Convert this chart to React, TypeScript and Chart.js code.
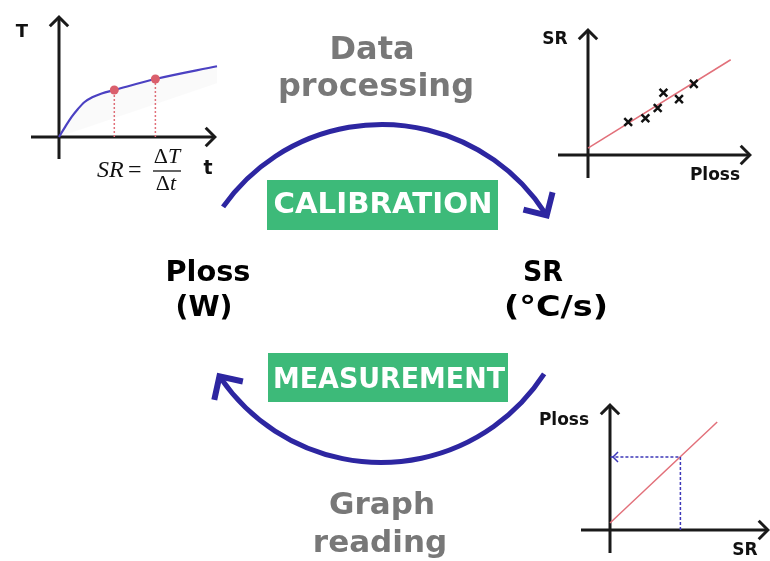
import React, { useEffect, useRef } from 'react';
import { Chart, registerables } from 'chart.js';

Chart.register(...registerables);

// ---------------- data ----------------
// Top-left: heating curve T(t) with two sample points
const curveTime = [0, 0.4, 0.8, 1.2, 1.6, 2.1, 2.7, 3.5, 6.1, 10];
const curveTemp = [0, 0.85, 1.65, 2.3, 2.85, 3.25, 3.57, 3.85, 4.75, 5.8];
const sampleTime = [3.5, 6.1];
const sampleTemp = [3.85, 4.75];
const shadeTime = [0, 10];
const shadeTemp = [0, 4.4];

// Top-right: calibration points SR vs Ploss and fitted line
const calPloss = [2.45, 3.5, 4.25, 4.6, 5.55, 6.45];
const calSR = [2.6, 2.9, 3.7, 4.9, 4.4, 5.6];
const fitPloss = [0, 8.7];
const fitSR = [0.55, 7.5];

// Bottom-right: reading Ploss from SR
const readFitSR = [0, 6.7];
const readFitPloss = [0.55, 8.5];
const readSR = [4.4];
const readPloss = [5.75];

// Texts
const cycleTop = ['Data', 'processing'];
const cycleBottom = ['Graph', 'reading'];
const leftNode = ['Ploss', '(W)'];
const rightNode = ['SR', '(°C/s)'];
const stepLabels = ['CALIBRATION', 'MEASUREMENT'];

// ---------------- styles ----------------
const FONT = '"DejaVu Sans", Verdana, sans-serif';
const SERIF = '"Liberation Serif", "DejaVu Serif", serif';
const AXIS = '#1a1a1a';
const ARC = '#2d26a1';
const GREEN = '#3dba79';
const GREY = '#787878';
const CURVE = '#4b41c2';
const RED_DOT = '#da5f6c';
const RED_LINE = '#e2707a';
const BLUE_DASH = '#3d37b8';

const pts = (xs: number[], ys: number[]) => xs.map((x, i) => ({ x, y: ys[i] }));
const rad = (d: number) => (d * Math.PI) / 180;

function drawText(
  ctx: CanvasRenderingContext2D,
  s: string,
  x: number,
  y: number,
  size: number,
  color: string,
  fitWidth = 0
) {
  ctx.save();
  ctx.font = `normal bold ${size}px ${FONT}`;
  ctx.fillStyle = color;
  ctx.textAlign = 'center';
  ctx.textBaseline = 'alphabetic';
  if (fitWidth > 0) {
    const w = ctx.measureText(s).width;
    ctx.translate(x, y);
    ctx.scale(fitWidth / w, 1);
    ctx.fillText(s, 0, 0);
  } else {
    ctx.fillText(s, x, y);
  }
  ctx.restore();
}

function chevron(
  ctx: CanvasRenderingContext2D,
  tipX: number,
  tipY: number,
  dir: number,
  arm: number,
  width: number,
  color: string
) {
  const back = width * 0.707;
  const tx = tipX - Math.cos(dir) * back;
  const ty = tipY - Math.sin(dir) * back;
  ctx.save();
  ctx.strokeStyle = color;
  ctx.lineWidth = width;
  ctx.lineJoin = 'miter';
  ctx.lineCap = 'butt';
  ctx.beginPath();
  ctx.moveTo(tx - arm * Math.cos(dir - Math.PI / 4), ty - arm * Math.sin(dir - Math.PI / 4));
  ctx.lineTo(tx, ty);
  ctx.lineTo(tx - arm * Math.cos(dir + Math.PI / 4), ty - arm * Math.sin(dir + Math.PI / 4));
  ctx.stroke();
  ctx.restore();
}

function drawArcArrow(ctx: CanvasRenderingContext2D, cx: number, cy: number, r: number, a0: number, a1: number) {
  ctx.save();
  ctx.strokeStyle = ARC;
  ctx.lineWidth = 5;
  ctx.lineCap = 'butt';
  ctx.beginPath();
  ctx.arc(cx, cy, r, rad(a0), rad(a1 - 2));
  ctx.stroke();
  ctx.restore();
  const tx = cx + r * Math.cos(rad(a1));
  const ty = cy + r * Math.sin(rad(a1));
  chevron(ctx, tx, ty, rad(a1 + 90), 24, 6, ARC);
}

function drawMixed(
  ctx: CanvasRenderingContext2D,
  parts: { t: string; italic: boolean }[],
  cx: number,
  y: number,
  size: number
) {
  ctx.save();
  const fonts = parts.map((p) => `${p.italic ? 'italic' : 'normal'} normal ${size}px ${SERIF}`);
  let total = 0;
  const widths = parts.map((p, i) => {
    ctx.font = fonts[i];
    const w = ctx.measureText(p.t).width;
    total += w;
    return w;
  });
  let x = cx - total / 2;
  ctx.fillStyle = '#111';
  ctx.textAlign = 'left';
  ctx.textBaseline = 'alphabetic';
  parts.forEach((p, i) => {
    ctx.font = fonts[i];
    ctx.fillText(p.t, x, y);
    x += widths[i];
  });
  ctx.restore();
}

// ---------------- plugins ----------------
type Label = { text: string; x: number; y: number; size: number };

function makeAxesPlugin(cfg: { extLeft: number; extDown: number; labels: Label[]; after?: (chart: any) => void }) {
  return {
    id: 'arrowAxes',
    beforeDatasetsDraw(chart: any) {
      const ctx: CanvasRenderingContext2D = chart.ctx;
      const { x, y } = chart.scales;
      const area = chart.chartArea;
      const x0 = x.getPixelForValue(0);
      const y0 = y.getPixelForValue(0);
      ctx.save();
      ctx.strokeStyle = AXIS;
      ctx.lineWidth = 3;
      ctx.beginPath();
      ctx.moveTo(x0 - cfg.extLeft, y0);
      ctx.lineTo(area.right - 2, y0);
      ctx.moveTo(x0, y0 + cfg.extDown);
      ctx.lineTo(x0, area.top + 2);
      ctx.stroke();
      ctx.restore();
      chevron(ctx, area.right, y0, 0, 13, 3, AXIS);
      chevron(ctx, x0, area.top, -Math.PI / 2, 13, 3, AXIS);
      cfg.labels.forEach((l) => drawText(ctx, l.text, l.x, l.y, l.size, '#111'));
    },
    afterDatasetsDraw(chart: any) {
      if (cfg.after) cfg.after(chart);
    },
  };
}

const cyclePlugin = {
  id: 'cycleDiagram',
  afterDraw(chart: any) {
    const ctx: CanvasRenderingContext2D = chart.ctx;
    // cycle arrows
    drawArcArrow(ctx, 382, 319, 194.5, 215.2, 329.1);
    drawArcArrow(ctx, 381, 268, 194.5, 33, 147.4);
    // step boxes
    ctx.save();
    ctx.fillStyle = GREEN;
    ctx.fillRect(267, 180, 231, 50);
    ctx.fillRect(268, 353, 240, 49);
    ctx.restore();
    drawText(ctx, stepLabels[0], 383, 213, 28, '#ffffff', 219);
    drawText(ctx, stepLabels[1], 389, 388, 28.5, '#ffffff', 232);
    // grey step descriptions
    drawText(ctx, cycleTop[0], 372, 59, 32, GREY);
    drawText(ctx, cycleTop[1], 376, 96, 32, GREY);
    drawText(ctx, cycleBottom[0], 382, 514, 31, GREY);
    drawText(ctx, cycleBottom[1], 380, 552, 31, GREY);
    // nodes
    drawText(ctx, leftNode[0], 208, 281, 28, '#000', 85);
    drawText(ctx, leftNode[1], 204, 316, 28, '#000', 57);
    drawText(ctx, rightNode[0], 543, 281, 28, '#000', 40);
    drawText(ctx, rightNode[1], 556, 316, 28, '#000', 104);
  },
};

// ---------------- chart configs ----------------
function miniScales() {
  return {
    x: { type: 'linear' as const, min: 0, max: 10, display: false },
    y: { type: 'linear' as const, min: 0, max: 10, display: false },
  };
}

function baseOptions(padding: { left: number; top: number; right: number; bottom: number }) {
  return {
    responsive: false,
    animation: false as const,
    devicePixelRatio: 1,
    layout: { padding },
    scales: miniScales(),
    plugins: { legend: { display: false }, tooltip: { enabled: false }, title: { display: false } },
    events: [] as any[],
  };
}

function chart1Config(): any {
  const plugin = makeAxesPlugin({
    extLeft: 28,
    extDown: 22,
    labels: [
      { text: 'T', x: 22, y: 37, size: 18 },
      { text: 't', x: 208, y: 174, size: 19 },
    ],
    after: (chart: any) => {
      const ctx: CanvasRenderingContext2D = chart.ctx;
      ctx.save();
      ctx.font = `italic normal 24px ${SERIF}`;
      ctx.fillStyle = '#111';
      ctx.textBaseline = 'alphabetic';
      ctx.fillText('SR', 97, 177);
      ctx.font = `normal normal 24px ${SERIF}`;
      ctx.fillText('=', 128, 177);
      ctx.strokeStyle = '#111';
      ctx.lineWidth = 1.3;
      ctx.beginPath();
      ctx.moveTo(153, 171);
      ctx.lineTo(181, 171);
      ctx.stroke();
      ctx.restore();
      drawMixed(ctx, [{ t: 'Δ', italic: false }, { t: 'T', italic: true }], 167, 163, 22);
      drawMixed(ctx, [{ t: 'Δ', italic: false }, { t: 't', italic: true }], 166, 190, 22);
    },
  });
  const verticals = sampleTime.map((t, i) => ({
    data: [
      { x: t, y: 0 },
      { x: t, y: sampleTemp[i] },
    ],
    showLine: true,
    borderColor: RED_LINE,
    borderWidth: 1.5,
    borderDash: [2, 2],
    pointRadius: 0,
    clip: false,
    order: 3,
  }));
  return {
    type: 'scatter',
    data: {
      datasets: [
        {
          data: pts(shadeTime, shadeTemp),
          showLine: true,
          borderWidth: 0,
          borderColor: 'rgba(0,0,0,0)',
          pointRadius: 0,
          clip: false,
          order: 4,
        },
        {
          data: pts(curveTime, curveTemp),
          showLine: true,
          borderColor: CURVE,
          borderWidth: 2.2,
          pointRadius: 0,
          cubicInterpolationMode: 'monotone',
          fill: '-1',
          backgroundColor: 'rgba(0,0,0,0.02)',
          clip: false,
          order: 2,
        },
        ...verticals,
        {
          data: pts(sampleTime, sampleTemp),
          showLine: false,
          pointRadius: 4.5,
          backgroundColor: RED_DOT,
          borderWidth: 0,
          clip: false,
          order: 0,
        },
      ],
    },
    options: baseOptions({ left: 59, top: 15, right: 23, bottom: 63 }),
    plugins: [plugin],
  };
}

function chart2Config(): any {
  const plugin = makeAxesPlugin({
    extLeft: 30,
    extDown: 23,
    labels: [
      { text: 'SR', x: 35, y: 44, size: 17 },
      { text: 'Ploss', x: 195, y: 180, size: 17 },
    ],
  });
  return {
    type: 'scatter',
    data: {
      datasets: [
        {
          data: pts(calPloss, calSR),
          showLine: false,
          pointStyle: 'crossRot',
          pointRadius: 5.5,
          borderWidth: 2.5,
          borderColor: '#111',
          clip: false,
          order: 0,
        },
        {
          data: pts(fitPloss, fitSR),
          showLine: true,
          borderColor: RED_LINE,
          borderWidth: 1.5,
          pointRadius: 0,
          clip: false,
          order: 1,
        },
      ],
    },
    options: baseOptions({ left: 68, top: 28, right: 18, bottom: 45 }),
    plugins: [plugin],
  };
}

function chart3Config(): any {
  const plugin = makeAxesPlugin({
    extLeft: 29,
    extDown: 23,
    labels: [
      { text: 'Ploss', x: 44, y: 45, size: 17 },
      { text: 'SR', x: 225, y: 175, size: 17 },
    ],
    after: (chart: any) => {
      const { x, y } = chart.scales;
      chevron(chart.ctx, x.getPixelForValue(0) + 2, y.getPixelForValue(readPloss[0]), Math.PI, 7, 1.5, BLUE_DASH);
    },
  });
  return {
    type: 'scatter',
    data: {
      datasets: [
        {
          data: [
            { x: readSR[0], y: 0 },
            { x: readSR[0], y: readPloss[0] },
            { x: 0, y: readPloss[0] },
          ],
          showLine: true,
          borderColor: BLUE_DASH,
          borderWidth: 1.5,
          borderDash: [3, 2],
          pointRadius: 0,
          clip: false,
          order: 0,
        },
        {
          data: pts(readFitSR, readFitPloss),
          showLine: true,
          borderColor: RED_LINE,
          borderWidth: 1.5,
          pointRadius: 0,
          clip: false,
          order: 1,
        },
      ],
    },
    options: baseOptions({ left: 90, top: 23, right: 0, bottom: 31 }),
    plugins: [plugin],
  };
}

function mainConfig(): any {
  return {
    type: 'scatter',
    data: { datasets: [] },
    options: {
      responsive: false,
      animation: false,
      devicePixelRatio: 1,
      scales: {
        x: { type: 'linear', min: 0, max: 770, display: false },
        y: { type: 'linear', min: 0, max: 561, reverse: true, display: false },
      },
      plugins: { legend: { display: false }, tooltip: { enabled: false } },
      events: [],
    },
    plugins: [cyclePlugin],
  };
}

export default function App() {
  const mainRef = useRef<HTMLCanvasElement>(null);
  const ref1 = useRef<HTMLCanvasElement>(null);
  const ref2 = useRef<HTMLCanvasElement>(null);
  const ref3 = useRef<HTMLCanvasElement>(null);

  useEffect(() => {
    const charts = [
      new Chart(mainRef.current!, mainConfig()),
      new Chart(ref1.current!, chart1Config()),
      new Chart(ref2.current!, chart2Config()),
      new Chart(ref3.current!, chart3Config()),
    ];
    return () => charts.forEach((c) => c.destroy());
  }, []);

  const abs = (left: number, top: number, width: number, height: number): React.CSSProperties => ({
    position: 'absolute',
    left,
    top,
    width,
    height,
  });

  return (
    <div style={{ position: 'absolute', left: 0, top: 0, width: 770, height: 561, overflow: 'hidden', background: '#ffffff' }}>
      <canvas ref={mainRef} width={770} height={561} style={abs(0, 0, 770, 561)} />
      <canvas ref={ref1} width={240} height={200} style={abs(0, 0, 240, 200)} />
      <canvas ref={ref2} width={250} height={200} style={abs(520, 0, 250, 200)} />
      <canvas ref={ref3} width={250} height={181} style={abs(520, 380, 250, 181)} />
    </div>
  );
}
